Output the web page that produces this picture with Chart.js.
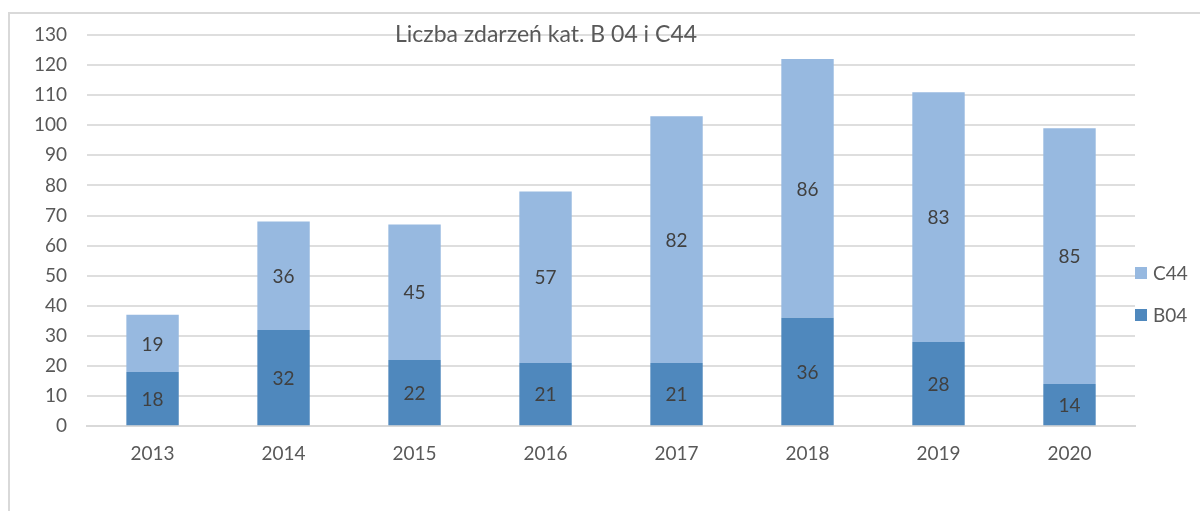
<!DOCTYPE html>
<html>
<head>
<meta charset="utf-8">
<script src="https://cdn.jsdelivr.net/npm/chart.js@4"></script>
<style>
  html, body { margin: 0; padding: 0; background: #fff; }
  #wrap { position: relative; width: 1200px; height: 511px; overflow: hidden; }
  #frame { position: absolute; left: 8px; top: 12px; width: 1300px; height: 600px;
           border-top: 2px solid #d9d9d9; border-left: 2px solid #d9d9d9; }
  canvas { position: absolute; left: 0; top: 0; }
</style>
</head>
<body>
<div id="wrap">
  <div id="frame"></div>
  <canvas id="chart" width="1200" height="511"></canvas>
</div>
<script>
const years = ['2013', '2014', '2015', '2016', '2017', '2018', '2019', '2020'];
const b04 = [18, 32, 22, 21, 21, 36, 28, 14];
const c44 = [19, 36, 45, 57, 82, 86, 83, 85];
const chartTitle = 'Liczba zdarzeń kat. B 04 i C44';

const FONT = 'Lato, "Open Sans", sans-serif';
const textColor = '#595959';

// title over the top gridline, plus value labels and legend
const extras = {
    id: 'extras',
    afterDatasetsDraw(chart) {
        const ctx = chart.ctx;
        ctx.save();
        ctx.font = '19px ' + FONT;
        ctx.fillStyle = '#404040';
        ctx.textAlign = 'center';
        ctx.textBaseline = 'middle';
        chart.data.datasets.forEach((ds, i) => {
            chart.getDatasetMeta(i).data.forEach((bar, j) => {
                const mid = (bar.y + bar.base) / 2;
                ctx.fillText(String(ds.data[j]), bar.x, mid + 1);
            });
        });

        ctx.fillStyle = textColor;
        ctx.font = '23px ' + FONT;
        ctx.fillText(chartTitle, 546, chart.chartArea.top);

        // legend (C44 above B04)
        const items = [chart.data.datasets[1], chart.data.datasets[0]];
        const ys = [273, 315];
        ctx.textAlign = 'left';
        ctx.font = '19px ' + FONT;
        items.forEach((ds, k) => {
            ctx.fillStyle = ds.backgroundColor;
            ctx.fillRect(1135, ys[k] - 6, 12, 12);
            ctx.fillStyle = textColor;
            ctx.fillText(ds.label, 1153, ys[k] + 1);
        });
        ctx.restore();
    }
};

new Chart(document.getElementById('chart'), {
    type: 'bar',
    data: {
        labels: years,
        datasets: [
            { label: 'B04', data: b04, backgroundColor: '#4f88bd' },
            { label: 'C44', data: c44, backgroundColor: '#97b9e0' }
        ]
    },
    options: {
        responsive: false,
        animation: false,
        layout: { padding: { left: 14, right: 65, top: 35, bottom: 30 } },
        datasets: { bar: { barPercentage: 0.4, categoryPercentage: 1 } },
        plugins: { legend: { display: false }, title: { display: false }, tooltip: { enabled: false } },
        scales: {
            x: {
                stacked: true,
                grid: { display: false, drawTicks: false },
                border: { display: true, color: '#d9d9d9', width: 2 },
                ticks: { color: textColor, font: { family: FONT, size: 19 }, padding: 16 }
            },
            y: {
                stacked: true,
                min: 0, max: 130,
                grid: { color: '#dedede', lineWidth: 2, drawTicks: false },
                border: { display: false },
                ticks: { stepSize: 10, color: textColor, font: { family: FONT, size: 19 }, padding: 20 }
            }
        }
    },
    plugins: [extras]
});
</script>
</body>
</html>
